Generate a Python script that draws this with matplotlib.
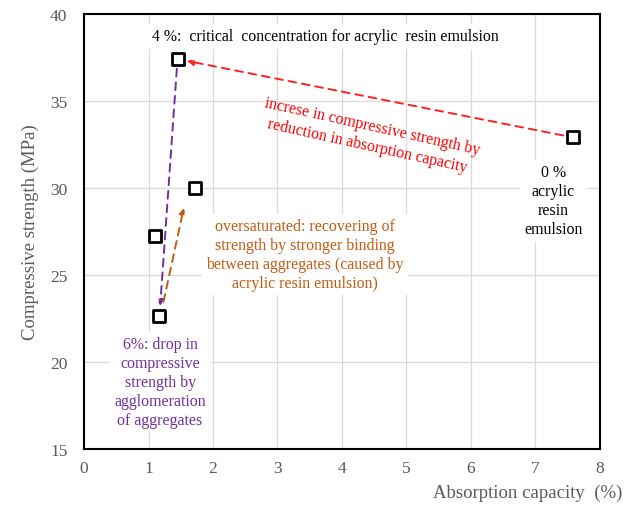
import numpy as np
import matplotlib
matplotlib.use('Agg')
import matplotlib.pyplot as plt

plt.rcParams['font.family'] = ['Liberation Serif', 'DejaVu Serif']

# absorption capacity (%) and compressive strength (MPa)
absorption = [7.58, 1.45, 1.72, 1.10, 1.17]
strength = [32.9, 37.4, 30.0, 27.25, 22.65]

grey = '#595959'

fig = plt.figure(figsize=(6.32, 5.10), dpi=100)
ax = fig.add_axes([0.133, 0.118, 0.816, 0.853])

ax.set_xlim(0, 8)
ax.set_ylim(15, 40)
ax.set_xticks(range(0, 9))
ax.set_yticks(range(15, 41, 5))
ax.grid(True, color='#d9d9d9', linewidth=0.9)
ax.set_axisbelow(True)
for s in ax.spines.values():
    s.set_linewidth(1.5)
    s.set_color('black')
ax.tick_params(length=0, labelsize=12.5, labelcolor=grey, pad=8)
ax.tick_params(axis='y', pad=12)

ax.scatter(absorption, strength, marker='s', s=70, facecolor='white',
           edgecolor='black', linewidth=2, zorder=5)

# dashed arrows between the points
def arrow(p0, p1, color):
    ax.annotate('', xy=p1, xytext=p0,
                arrowprops=dict(arrowstyle='-|>', color=color, linestyle=(0, (4, 3)),
                                linewidth=1.4, mutation_scale=9,
                                shrinkA=7, shrinkB=7), zorder=4)

arrow((absorption[0], strength[0]), (absorption[1], strength[1]), '#ff2020')
arrow((absorption[1], strength[1]), (absorption[4], strength[4]), '#7030a0')
arrow((1.20, 22.9), (1.58, 29.4), '#c55a11')

fs = 11.4
ls = 1.25
box = dict(facecolor='white', edgecolor='none', pad=3)
ax.text(3.75, 38.7, '4 %:  critical  concentration for acrylic  resin emulsion',
        ha='center', va='center', fontsize=fs, color='black', bbox=box, zorder=3)
ax.text(4.43, 33.0, 'increse in compressive strength by\nreduction in absorption capacity',
        ha='center', va='center', fontsize=fs, color='#ff0000', rotation=-12.5,
        linespacing=1.3, zorder=3)
ax.text(7.28, 29.25, '0 %\nacrylic\nresin\nemulsion', ha='center', va='center',
        fontsize=fs, color='black', linespacing=ls, bbox=box, zorder=3)
ax.text(3.43, 26.15, 'oversaturated: recovering of\nstrength by stronger binding\n'
        'between aggregates (caused by\nacrylic resin emulsion)',
        ha='center', va='center', fontsize=fs, color='#c55a11', linespacing=ls,
        bbox=box, zorder=3)
ax.text(1.18, 18.85, '6%: drop in\ncompressive\nstrength by\nagglomeration\nof aggregates',
        ha='center', va='center', fontsize=fs, color='#7030a0', linespacing=ls,
        bbox=box, zorder=3)

ax.set_ylabel('Compressive strength (MPa)', fontsize=13.5, color=grey, labelpad=8)
fig.text(0.984, 0.015, 'Absorption capacity  (%)', ha='right', va='bottom',
         fontsize=13.5, color=grey)

fig.savefig('out.png', dpi=100)
